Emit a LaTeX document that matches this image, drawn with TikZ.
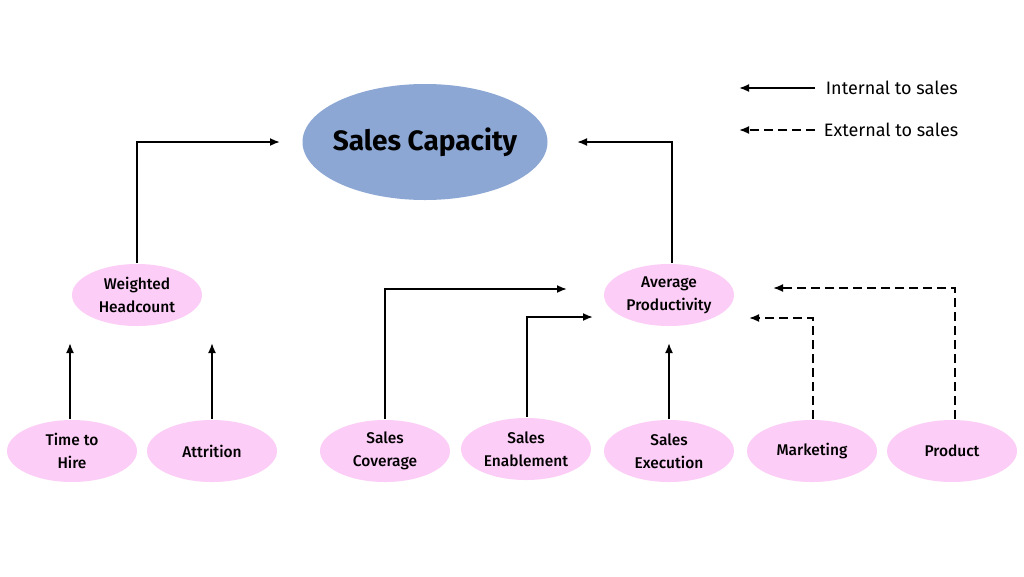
\documentclass[tikz,border=0pt]{standalone}
\usepackage{fontspec}
\setmainfont{Fira Sans}
\newfontfamily\labelfont{Fira Sans Medium}
\usetikzlibrary{shapes.geometric,arrows.meta}
\definecolor{capblue}{HTML}{8CA7D4}
\definecolor{bubblepink}{HTML}{FCCDF6}
\tikzset{arr/.style={-{Latex[length=10pt,width=8pt]}}}
\begin{document}
\begin{tikzpicture}[x=1pt, y=-1pt, line width=1.8pt,
  bubble/.style={ellipse, fill=bubblepink, minimum width=130pt, minimum height=62pt,
    inner sep=0pt, align=center, font=\labelfont\fontsize{15.5}{23}\selectfont},
  ext/.style={dash pattern=on 9pt off 5pt}]
\useasboundingbox[fill=white](0,0) rectangle (1024,576);
% top level
\node[ellipse, fill=capblue, minimum width=245pt, minimum height=116pt, inner sep=-20pt,
  font=\bfseries\fontsize{28}{32}\selectfont] (cap) at (425,142) {Sales Capacity};
\node[bubble] (head) at (137,295) {Weighted\\Headcount};
\node[bubble] (prod) at (669,295) {Average\\Productivity};
% bottom row
\node[bubble] (hire) at (72,451) {Time to\\Hire};
\node[bubble] (attr) at (212,451) {Attrition};
\node[bubble] (cov) at (385,451) {Sales\\Coverage};
\node[bubble] (enab) at (526,449) {Sales\\Enablement};
\node[bubble] (exec) at (669,451) {Sales\\Execution};
\node[bubble] (mark) at (812,451) {Marketing};
\node[bubble] (product) at (952,451) {Product};
% free ends
\coordinate (capL) at (280,142);
\coordinate (capR) at (577,142);
\coordinate (headA) at (70,343);
\coordinate (headB) at (212,343);
\coordinate (prodA) at (567,289);
\coordinate (prodB) at (593,317);
\coordinate (prodC) at (669,343);
\coordinate (prodD) at (749,318);
\coordinate (prodE) at (773,288);
% internal
\draw[arr](head.north)|-(capL);
\draw[arr](prod.north -| 672,0)|-(capR);
\draw[arr](hire.north -| headA)--(headA);
\draw[arr](attr.north)--(headB);
\draw[arr](cov.north)|-(prodA);
\draw[arr](enab.north -| 527,0)|-(prodB);
\draw[arr](exec.north)--(prodC);
% external
\draw[arr, ext](mark.north -| 813,0)|-(prodD);
\draw[arr, ext](product.north -| 955,0)|-(prodE);
% legend
\node[anchor=west, inner sep=0pt, font=\fontsize{18}{21}\selectfont] (intl) at (825,88) {Internal to sales};
\node[anchor=west, inner sep=0pt, font=\fontsize{18}{21}\selectfont] (extl) at (823,130) {External to sales};
\coordinate (intend) at (739,88);
\coordinate (extend) at (739,130);
\draw[arr]([xshift=-10pt]intl.west)--(intend);
\draw[arr, ext]([xshift=-8pt]extl.west)--(extend);
\end{tikzpicture}
\end{document}
